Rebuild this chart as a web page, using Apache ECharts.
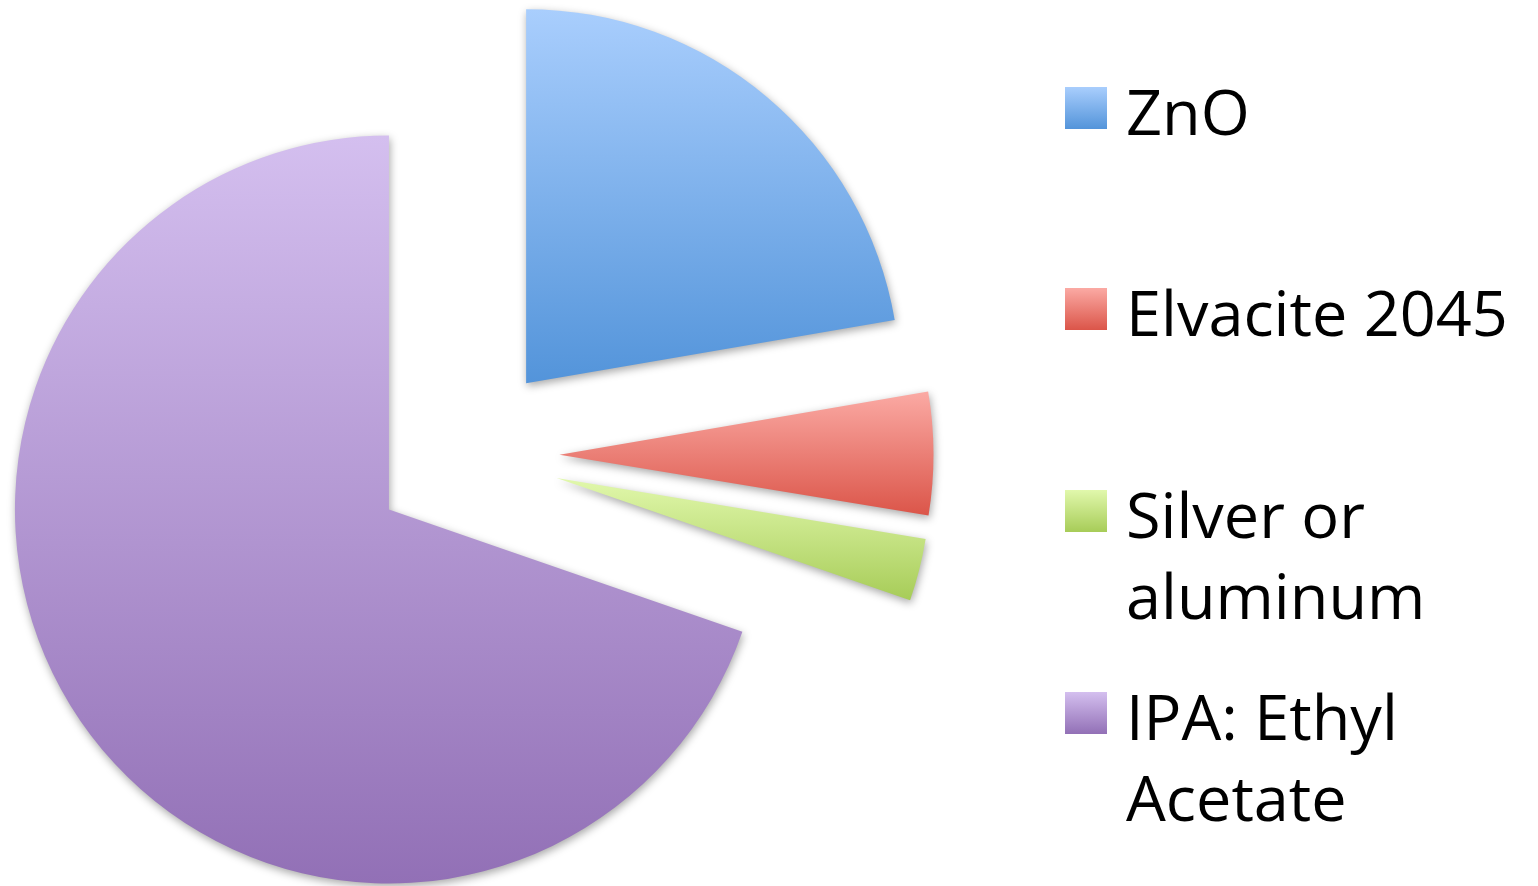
<!DOCTYPE html>
<html>
<head>
<meta charset="utf-8">
<title>Ink composition</title>
<script src="https://cdn.jsdelivr.net/npm/echarts@6/dist/echarts.min.js"></script>
<style>
  html, body { margin: 0; padding: 0; background: #ffffff; }
  #chart { width: 1538px; height: 886px; }
</style>
</head>
<body>
<div id="chart"></div>
<script>
// Component shares (percent of the mixture)
const components = ['ZnO', 'Elvacite 2045', 'Silver or aluminum', 'IPA: Ethyl Acetate'];
const shares = [22.3, 5.3, 2.7, 69.7];
// Legend text as it is broken over lines on the right-hand side
const legendLines = [['ZnO'], ['Elvacite 2045'], ['Silver or', 'aluminum'], ['IPA: Ethyl', 'Acetate']];
// Top/bottom gradient stops for each slice
const topColors = ['#a9cefd', '#fbaaa4', '#e1f8ac', '#d4bfef'];
const bottomColors = ['#5394da', '#db5549', '#a7cc58', '#9270b6'];

const FONT = '"Open Sans", "Noto Sans", sans-serif';
const FONT_SIZE = 63;
const LINE = 81;
const ICON = 42;
const TEXT_DROP = 18; // top padding of each legend token, lowers glyphs by half of it

function gradient(i) {
  return new echarts.graphic.LinearGradient(0, 0, 0, 1, [
    { offset: 0, color: topColors[i] },
    { offset: 1, color: bottomColors[i] }
  ]);
}

const chart = echarts.init(document.getElementById('chart'), null, { renderer: 'canvas' });

// Legend text is centred on its swatch; for wrapped labels empty leading
// lines keep the first line level with the swatch.
const iconTops = [87, 288, 490, 692];
const legends = components.map((name, i) => {
  const lines = legendLines[i];
  const extra = lines.length - 1;
  const rows = new Array(extra).fill('{e| }').concat(lines.map(l => '{t|' + l + '}'));
  const text = rows.join('\n');
  const textHalf = rows.length * LINE / 2;
  const above = Math.max(0, textHalf - ICON / 2);
  const tokenStyle = {
    fontFamily: FONT,
    fontSize: FONT_SIZE,
    color: '#000000',
    lineHeight: LINE,
    padding: [TEXT_DROP, 0, 0, 0]
  };
  return {
    orient: 'vertical',
    left: 1065,
    top: iconTops[i] - above,
    padding: 0,
    itemWidth: ICON,
    itemHeight: ICON,
    icon: 'rect',
    selectedMode: false,
    data: [name],
    formatter: () => text,
    textStyle: {
      fontFamily: FONT,
      fontSize: FONT_SIZE,
      color: '#000000',
      lineHeight: LINE,
      padding: [0, 0, 0, 14],
      rich: { t: tokenStyle, e: tokenStyle }
    }
  };
});

chart.setOption({
  animation: false,
  backgroundColor: '#ffffff',
  legend: legends,
  series: [{
    type: 'pie',
    center: [465.5, 455],
    radius: 374,
    startAngle: 90,
    clockwise: true,
    selectedMode: 'multiple',
    selectedOffset: 94,
    label: { show: false },
    labelLine: { show: false },
    emphasis: { disabled: true },
    itemStyle: {
      borderWidth: 0,
      shadowBlur: 8,
      shadowOffsetX: 1,
      shadowOffsetY: 3,
      shadowColor: 'rgba(0,0,0,0.35)'
    },
    data: components.map((name, i) => ({
      name: name,
      value: shares[i],
      selected: true,
      itemStyle: { color: gradient(i) },
      select: { itemStyle: { color: gradient(i) } }
    }))
  }]
});
</script>
</body>
</html>
